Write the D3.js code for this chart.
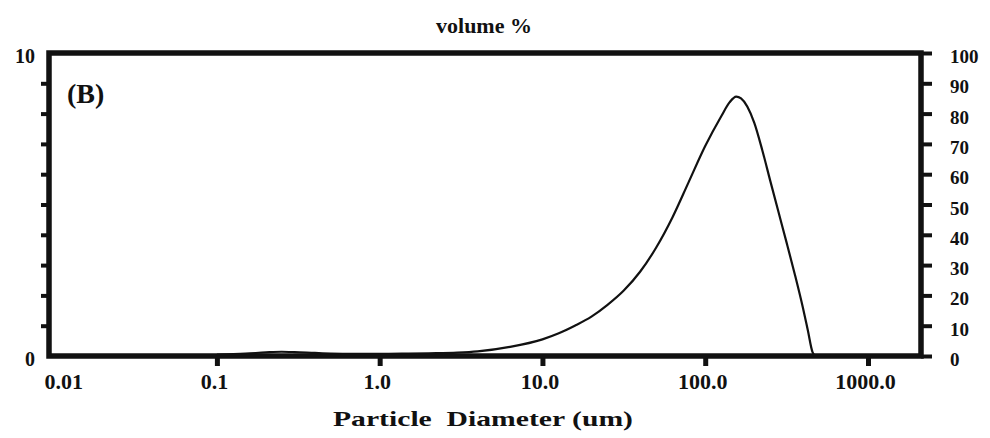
<!DOCTYPE html>
<html>
<head>
<meta charset="utf-8">
<script src="https://cdn.jsdelivr.net/npm/d3@7"></script>
<style>
  html, body { margin: 0; padding: 0; background: #fff; }
  svg text { font-family: "Liberation Serif", "Times New Roman", serif; font-weight: bold; fill: #111; }
</style>
</head>
<body>
<div id="chart"></div>
<script>
// particle size distribution, sample (B)
var diameters = [0.1, 0.15, 0.2, 0.25, 0.3, 0.4, 0.5, 0.7, 1.0, 1.5, 2, 3, 4, 6.3, 10, 12.6, 15.8, 20, 25, 31.6, 39.8, 50, 63, 79, 100, 126, 141, 155, 166, 200, 224, 251, 282, 316, 355, 398, 427, 457, 479, 600, 800, 1000];
var volumePct = [0.05, 0.08, 0.12, 0.14, 0.13, 0.1, 0.08, 0.07, 0.07, 0.08, 0.09, 0.11, 0.15, 0.3, 0.55, 0.75, 1.0, 1.3, 1.68, 2.16, 2.78, 3.58, 4.58, 5.73, 6.93, 7.93, 8.37, 8.56, 8.5, 7.7, 6.8, 5.78, 4.75, 3.75, 2.7, 1.6, 0.85, 0.12, 0, 0.03, 0.02, 0];

var xTickValues = [0.01, 0.1, 1, 10, 100, 1000];
var xTickLabels = ["0.01", "0.1", "1.0", "10.0", "100.0", "1000.0"];
var leftTickValues = [1, 2, 3, 4, 5, 6, 7, 8, 9];
var leftLabelValues = [0, 10];
var rightTickValues = [0, 10, 20, 30, 40, 50, 60, 70, 80, 90, 100];

var W = 990, H = 438;
var plotL = 49, plotR = 921, plotT = 53, plotB = 356;

var svg = d3.select("#chart").append("svg")
    .attr("width", W)
    .attr("height", H);

var x = d3.scaleLog().domain([0.0093, 2117]).range([plotL, plotR]);
var y = d3.scaleLinear().domain([0, 10]).range([plotB, plotT]);
var y2 = d3.scaleLinear().domain([0, 100]).range([plotB, plotT]);

// left ticks (no labels)
var gl = svg.append("g")
    .attr("transform", "translate(" + plotL + ",0)")
    .call(d3.axisLeft(y).tickValues(leftTickValues).tickSize(8).tickFormat(""));
gl.select(".domain").remove();
gl.selectAll(".tick line").attr("stroke", "#111").attr("stroke-width", 4);

// left labels 0 and 10 only
var gl2 = svg.append("g")
    .attr("transform", "translate(" + plotL + ",0)")
    .call(d3.axisLeft(y).tickValues(leftLabelValues).tickSize(0).tickPadding(14).tickFormat(d3.format("d")));
gl2.select(".domain").remove();
gl2.selectAll("text").style("font-size", "20px").attr("dy", "0.45em");

// right axis
var gr = svg.append("g")
    .attr("transform", "translate(" + plotR + ",0)")
    .call(d3.axisRight(y2).tickValues(rightTickValues).tickSize(11).tickPadding(18).tickFormat(d3.format("d")));
gr.select(".domain").remove();
gr.selectAll(".tick line").attr("stroke", "#111").attr("stroke-width", 4);
gr.selectAll("text").style("font-size", "19px").attr("dy", "0.5em");

// bottom axis
var gb = svg.append("g")
    .attr("transform", "translate(0," + plotB + ")")
    .call(d3.axisBottom(x).tickValues(xTickValues).tickSize(10).tickPadding(7)
        .tickFormat(function (d, i) { return xTickLabels[i]; }));
gb.select(".domain").remove();
gb.selectAll(".tick line").attr("stroke", "#111").attr("stroke-width", 5);
gb.selectAll(".tick").filter(function (d) { return d === 0.01; }).select("line").remove();
gb.selectAll(".tick").filter(function (d) { return d === 0.01; }).select("text").attr("x", 12);
gb.selectAll("text").style("font-size", "22px").attr("dx", "-3");

// frame
svg.append("rect")
    .attr("x", plotL)
    .attr("y", plotT)
    .attr("width", plotR - plotL)
    .attr("height", plotB - plotT)
    .attr("fill", "none")
    .attr("stroke", "#111")
    .attr("stroke-width", 5.5);

// distribution curve
var line = d3.line()
    .x(function (d, i) { return x(diameters[i]); })
    .y(function (d) { return y(d); })
    .curve(d3.curveMonotoneX);

svg.append("path")
    .attr("d", line(volumePct))
    .attr("fill", "none")
    .attr("stroke", "#111")
    .attr("stroke-width", 2.2);

// texts
svg.append("text")
    .attr("x", 484)
    .attr("y", 33)
    .attr("text-anchor", "middle")
    .style("font-size", "22px")
    .text("volume %");

svg.append("text")
    .attr("x", 67)
    .attr("y", 103)
    .style("font-size", "28px")
    .text("(B)");

svg.append("text")
    .attr("x", 483)
    .attr("y", 426)
    .attr("text-anchor", "middle")
    .attr("textLength", 300)
    .attr("lengthAdjust", "spacingAndGlyphs")
    .style("font-size", "22px")
    .style("white-space", "pre")
    .text("Particle  Diameter (um)");
</script>
</body>
</html>
